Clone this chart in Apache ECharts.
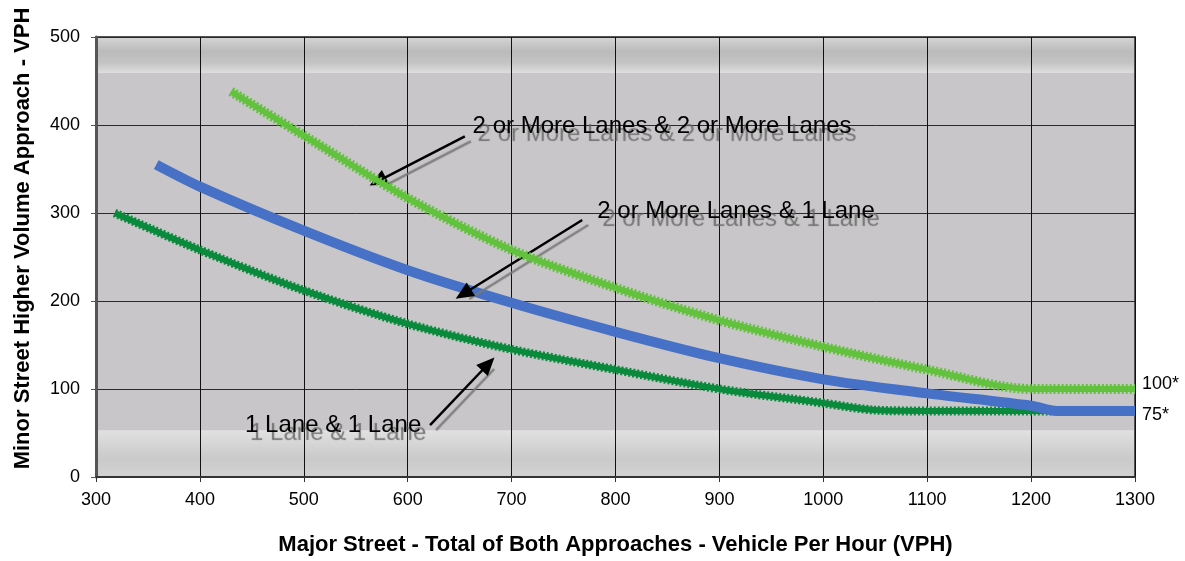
<!DOCTYPE html>
<html><head><meta charset="utf-8">
<script src="https://cdn.jsdelivr.net/npm/echarts@6/dist/echarts.min.js"></script>
<style>html,body{margin:0;padding:0;background:#fff}#c{width:1185px;height:561px}</style>
</head><body><div id="c"></div>
<script>
// ---- data ----
const seriesNames = ['2 or More Lanes & 2 or More Lanes', '2 or More Lanes & 1 Lane', '1 Lane & 1 Lane'];
const twoTwoX = [430, 500, 600, 700, 800, 900, 1000, 1100, 1200, 1300];
const twoTwoY = [438, 388, 317, 258, 215, 178, 148, 122, 100, 100];
const twoOneX = [358, 400, 500, 600, 700, 800, 900, 1000, 1100, 1200, 1225, 1300];
const twoOneY = [355, 330, 280, 235, 198, 165, 135, 111, 95, 81, 75, 75];
const oneOneX = [318, 400, 500, 600, 700, 800, 900, 1000, 1050, 1100, 1200, 1300];
const oneOneY = [300, 258, 212, 174, 145, 122, 100, 84, 76, 75, 75, 75];
const endLabels = ['100*', '75*'];
// annotation anchors in data units (x VPH, y VPH)
const labelAnchors = [[662, 399], [782, 302], [443, 59]];
const arrowTails = [[655, 387], [768, 292], [621.5, 59]];
const arrowTips = [[571, 336], [653.5, 208], [677.5, 128.4]];
const topBandValue = 459;
const bottomBandValue = 53;

const FONT = 'Arial, "Liberation Sans", Helvetica, sans-serif';
const zip = (xs, ys) => xs.map((x, i) => [x, ys[i]]);
const chart = echarts.init(document.getElementById('c'), null, {renderer: 'canvas'});

const DK = '#0a8a3c', BL = '#4671c6', LG = '#62c23e';
const SM = 0.3;

const option = {
  animation: false,
  backgroundColor: '#ffffff',
  grid: {left: 96, right: 50, top: 37, bottom: 84, show: true, backgroundColor: 'transparent', borderColor: '#555', borderWidth: 2},
  xAxis: {
    type: 'value', min: 300, max: 1300, interval: 100,
    name: 'Major Street - Total of Both Approaches - Vehicle Per Hour (VPH)',
    nameLocation: 'middle', nameGap: 57,
    nameTextStyle: {fontFamily: FONT, fontSize: 22, fontWeight: 'bold', color: '#000'},
    axisLine: {onZero: false, lineStyle: {color: '#333', width: 2}},
    axisTick: {show: true, length: 5, lineStyle: {color: '#333', width: 1}},
    axisLabel: {fontFamily: FONT, fontSize: 18, color: '#000', margin: 14, formatter: v => String(v)},
    splitLine: {show: true, lineStyle: {color: '#111', width: 1}}
  },
  yAxis: {
    type: 'value', min: 0, max: 500, interval: 100,
    name: 'Minor Street Higher Volume Approach - VPH',
    nameLocation: 'middle', nameGap: 62,
    nameTextStyle: {fontFamily: FONT, fontSize: 22, fontWeight: 'bold', color: '#000', padding: [0, 0, 0, 37]},
    axisLine: {show: true, lineStyle: {color: '#555', width: 3}},
    axisTick: {show: true, length: 5, lineStyle: {color: '#555', width: 1}},
    axisLabel: {fontFamily: FONT, fontSize: 18, color: '#000', margin: 16, formatter: v => String(v)},
    splitLine: {show: true, lineStyle: {color: '#2a2a2a', width: 1}}
  },
  series: [
    {name: seriesNames[2], type: 'line', data: zip(oneOneX, oneOneY), smooth: SM,
     symbol: 'none', z: 3, lineStyle: {color: DK, width: 6}},
    {name: seriesNames[2] + ' edge', type: 'line', data: zip(oneOneX, oneOneY), smooth: SM,
     symbol: 'none', z: 3, lineStyle: {color: DK, width: 9, type: [2, 2]}},
    {name: seriesNames[1], type: 'line', data: zip(twoOneX, twoOneY), smooth: SM,
     symbol: 'none', z: 4, lineStyle: {color: BL, width: 10},
     endLabel: {show: true, formatter: endLabels[1], fontFamily: FONT, fontSize: 18, color: '#000', distance: 7, offset: [0, 4]}},
    {name: seriesNames[0] + ' edge', type: 'line', data: zip(twoTwoX, twoTwoY), smooth: SM,
     symbol: 'none', z: 5, lineStyle: {color: LG, width: 10, type: [2, 2]}},
    {name: seriesNames[0], type: 'line', data: zip(twoTwoX, twoTwoY), smooth: SM,
     symbol: 'none', z: 6, lineStyle: {color: LG, width: 6},
     endLabel: {show: true, formatter: endLabels[0], fontFamily: FONT, fontSize: 18, color: '#000', distance: 7, offset: [0, -5]},
     markLine: {
       silent: true, symbol: ['none', 'triangle'], symbolSize: [16, 18], animation: false,
       label: {show: false},
       lineStyle: {color: '#000', width: 2.5, type: 'solid', shadowColor: 'rgba(120,120,120,0.9)', shadowOffsetX: 6, shadowOffsetY: 5, shadowBlur: 1},
       data: arrowTails.map((t, i) => [{coord: t}, {coord: arrowTips[i]}])
     },
     markPoint: {
       silent: true, symbol: 'rect', symbolSize: 1, itemStyle: {color: 'rgba(0,0,0,0)'},
       label: {show: true, position: 'right', distance: 0, formatter: '{b}', fontFamily: FONT, fontSize: 24, color: '#000',
               textShadowColor: 'rgba(100,100,100,0.85)', textShadowOffsetX: 5, textShadowOffsetY: 8, textShadowBlur: 1},
       data: labelAnchors.map((c, i) => ({coord: c, name: seriesNames[i]}))
     }
    }
  ]
};
chart.setOption(option);

const p = (x, y) => chart.convertToPixel({gridIndex: 0}, [x, y]);
const tl = p(300, 500), br = p(1300, 0);
const tb = p(300, topBandValue), bb = p(300, bottomBandValue);
const W = br[0] - tl[0];
chart.setOption({
  graphic: [
    {type: 'rect', z: -10, silent: true, shape: {x: tl[0], y: tl[1], width: W, height: br[1] - tl[1]}, style: {fill: '#c8c6c8'}},
    {type: 'rect', z: -9, silent: true, shape: {x: tl[0], y: tl[1], width: W, height: tb[1] - tl[1]},
     style: {fill: new echarts.graphic.LinearGradient(0, 0, 0, 1, [
       {offset: 0, color: '#d6d5d6'}, {offset: 0.4, color: '#bcbbbc'}, {offset: 0.7, color: '#c4c3c4'}, {offset: 1, color: '#dedddf'}])}},
    {type: 'rect', z: -9, silent: true, shape: {x: tl[0], y: bb[1], width: W, height: br[1] - bb[1]},
     style: {fill: new echarts.graphic.LinearGradient(0, 0, 0, 1, [
       {offset: 0, color: '#e2e1e2'}, {offset: 0.3, color: '#d6d5d6'}, {offset: 0.6, color: '#cbcacb'}, {offset: 1, color: '#d3d2d3'}])}}
  ]
});
</script>
</body></html>
